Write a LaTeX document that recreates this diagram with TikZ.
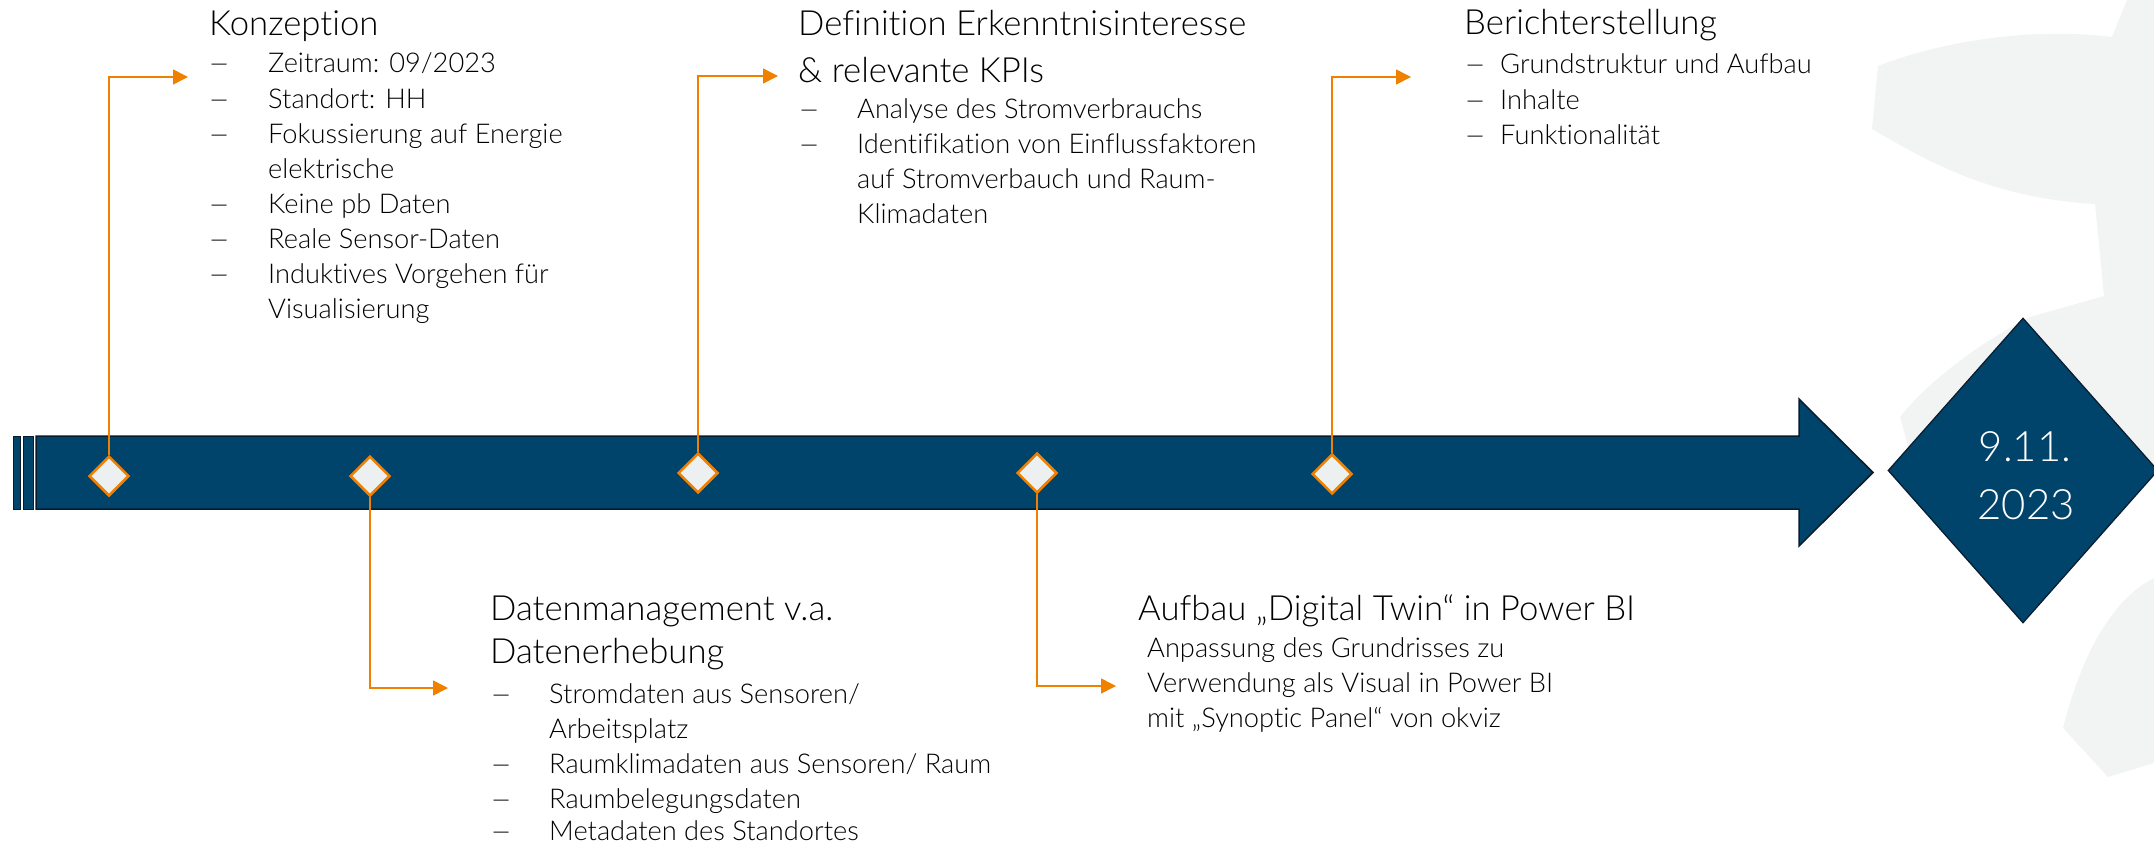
\documentclass[tikz,border=0pt]{standalone}
\usepackage{fontspec}
\IfFontExistsTF{Lato Light}
  {\setmainfont{Lato Light}[Ligatures=NoCommon,Scale=0.93]}
  {\setmainfont{Carlito}[Ligatures=NoCommon]}
\usetikzlibrary{shapes.geometric,arrows.meta}
\definecolor{barblue}{RGB}{0,67,107}
\definecolor{bardark}{RGB}{8,28,45}
\definecolor{orng}{RGB}{240,128,0}
\definecolor{mkfill}{RGB}{237,240,241}
\definecolor{gearg}{RGB}{242,243,243}
\newcommand{\wdash}{\scalebox{1.4}[1]{–}}
\begin{document}
\begin{tikzpicture}[x=1pt,y=-1pt,
  ttl/.style={anchor=base west,inner sep=0pt,font=\fontsize{37.3}{46}\selectfont},
  itm/.style={anchor=base west,inner sep=0pt,font=\fontsize{29.3}{35}\selectfont},
  marker/.style={diamond,aspect=1,minimum width=40pt,minimum height=40pt,inner sep=0pt,fill=mkfill,draw=orng,line width=2.5pt},
  conn/.style={draw=orng,line width=1.6pt,-{Triangle[length=15pt,width=15pt]}},
  datetxt/.style={anchor=base,inner sep=0pt,text=white,font=\fontsize{45}{58}\selectfont}
]
\useasboundingbox (0,0) rectangle (2154,843);
% background gear
\fill[gearg] (2154,0) -- (2127,0) -- (2112,37)
  .. controls (2040,28) and (1950,38) .. (1878,66)
  -- (1872,129)
  .. controls (1925,160) and (1990,198) .. (2095,204)
  -- (2104,296) -- (2030,317)
  .. controls (1975,345) and (1925,385) .. (1900,417)
  -- (1908,446) -- (1990,470) -- (2154,470) -- cycle;
\fill[gearg] (2154,578) .. controls (2110,600) and (2080,660) .. (2063,728)
  -- (2108,777) -- (2154,763) -- cycle;
% timeline bar
\filldraw[fill=barblue,draw=bardark,line width=1pt] (13.5,436) rectangle (20.5,509);
\filldraw[fill=barblue,draw=bardark,line width=1pt] (23,436) rectangle (33.5,509);
\filldraw[fill=barblue,draw=bardark,line width=1.5pt]
  (36,436) -- (1799,436) -- (1799,399) -- (1873,472.5) -- (1799,546) -- (1799,509) -- (36,509) -- cycle;
% goal diamond
\node[diamond,minimum width=270pt,minimum height=305pt,inner sep=0pt,fill=barblue,draw=bardark,line width=1.2pt] (goal) at (2023,470.5) {};
\node[datetxt] (gd1) at (2025,461) {9.11.};
\node[datetxt] (gd2) at (2026,519) {2023};
% markers
\node[marker] (d1) at (109,476) {};
\node[marker] (d2) at (370,476) {};
\node[marker] (d3) at (698,473) {};
\node[marker] (d4) at (1037,473) {};
\node[marker] (d5) at (1332,474) {};
% arrow end points
\coordinate (a1) at (188,77);
\coordinate (a2) at (448,688);
\coordinate (a3) at (778,76);
\coordinate (a4) at (1116,686);
\coordinate (a5) at (1411,77);
\draw[conn] (d1.north) |- (a1);
\draw[conn] (d2.south) |- (a2);
\draw[conn] (d3.north) |- (a3);
\draw[conn] (d4.south) |- (a4);
\draw[conn] (d5.north) |- (a5);
% Konzeption
\node[ttl] (k0) at (209,36) {Konzeption};
\node[itm] (k1d) at (208,73) {\wdash};
\node[itm] (k1) at (268,73) {Zeitraum: 09/2023};
\node[itm] (k2d) at (208,108) {\wdash};
\node[itm] (k2) at (268,108) {Standort: HH};
\node[itm] (k3d) at (208,143) {\wdash};
\node[itm] (k3) at (268,143) {Fokussierung auf Energie};
\node[itm] (k3b) at (268,178) {elektrische};
\node[itm] (k4d) at (208,213) {\wdash};
\node[itm] (k4) at (268,213) {Keine pb Daten};
\node[itm] (k5d) at (208,248) {\wdash};
\node[itm] (k5) at (268,248) {Reale Sensor-Daten};
\node[itm] (k6d) at (208,283) {\wdash};
\node[itm] (k6) at (268,283) {Induktives Vorgehen für};
\node[itm] (k6b) at (268,318) {Visualisierung};
% Definition
\node[ttl] (e0) at (798,36) {Definition Erkenntnisinteresse};
\node[ttl] (e0b) at (798,82) {\& relevante KPIs};
\node[itm] (e1d) at (798,118) {\wdash};
\node[itm] (e1) at (857,118) {Analyse des Stromverbrauchs};
\node[itm] (e2d) at (798,153) {\wdash};
\node[itm] (e2) at (857,153) {Identifikation von Einflussfaktoren};
\node[itm] (e2b) at (857,188) {auf Stromverbauch und Raum-};
\node[itm] (e2c) at (857,223) {Klimadaten};
% Berichterstellung
\node[ttl] (b0) at (1464,35) {Berichterstellung};
\node[itm] (b1d) at (1464,74) {\wdash};
\node[itm] (b1) at (1500,74) {Grundstruktur und Aufbau};
\node[itm] (b2d) at (1464,109) {\wdash};
\node[itm] (b2) at (1500,109) {Inhalte};
\node[itm] (b3d) at (1464,144) {\wdash};
\node[itm] (b3) at (1500,144) {Funktionalität};
% Datenmanagement
\node[ttl] (m0) at (490,620) {Datenmanagement v.a.};
\node[ttl] (m0b) at (490,663) {Datenerhebung};
\node[itm] (m1d) at (490,703) {\wdash};
\node[itm] (m1) at (549,703) {Stromdaten aus Sensoren/};
\node[itm] (m1b) at (549,738) {Arbeitsplatz};
\node[itm] (m2d) at (490,773) {\wdash};
\node[itm] (m2) at (549,773) {Raumklimadaten aus Sensoren/ Raum};
\node[itm] (m3d) at (490,808) {\wdash};
\node[itm] (m3) at (549,808) {Raumbelegungsdaten};
\node[itm] (m4d) at (490,840) {\wdash};
\node[itm] (m4) at (549,840) {Metadaten des Standortes};
% Digital Twin
\node[ttl] (t0) at (1138,620) {Aufbau „Digital Twin“ in Power BI};
\node[itm] (t1) at (1147,657) {Anpassung des Grundrisses zu};
\node[itm] (t2) at (1147,692) {Verwendung als Visual in Power BI};
\node[itm] (t3) at (1147,727) {mit „Synoptic Panel“ von okviz};
\end{tikzpicture}
\end{document}
